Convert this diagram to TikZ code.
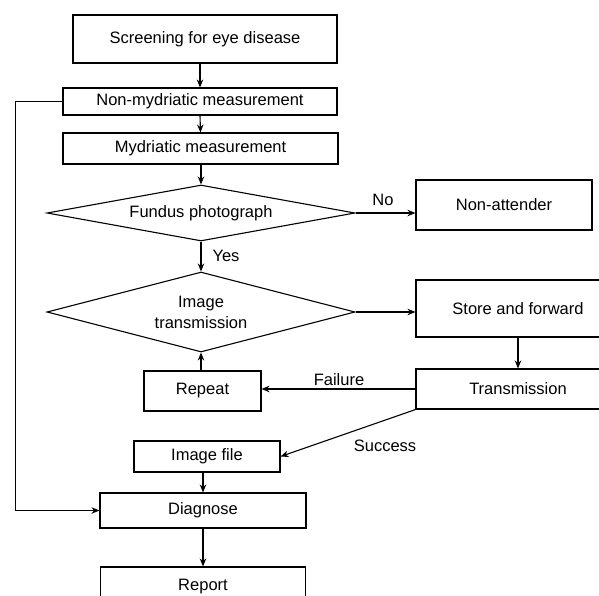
\documentclass[tikz,border=0pt]{standalone}
\usepackage{fontspec}
\setmainfont{Liberation Sans}
\usetikzlibrary{positioning,shapes.geometric,arrows.meta}
\tikzset{
    stage/.style={draw, rectangle, line width=1.1pt, inner sep=0pt},
    decision/.style={draw, diamond, line width=1.1pt, inner sep=0pt, align=center},
    flow/.style={line width=1.1pt}
}

\begin{document}
\begin{tikzpicture}[x=1pt, y=-1pt, >={Stealth[length=8pt,width=6.5pt]},
    font=\fontsize{16.5}{21}\selectfont]
    \useasboundingbox (0,0) rectangle (599,595);
    \def\levelOne{39}
    \def\levelTwo{101.5}
    \def\levelThree{148.5}
    \def\levelFour{213}
    \def\levelFive{312}
    \def\levelSix{391}
    \def\levelSeven{456.5}
    \def\levelEight{510.5}
    \def\levelNine{587}
    \node[stage, minimum width=264pt, minimum height=48pt] (screening) at (205,\levelOne) {Screening for eye disease};
    \node[stage, minimum width=274pt, minimum height=27pt] (nonMydriatic) at (200,\levelTwo) {Non-mydriatic measurement};
    \node[stage, minimum width=275pt, minimum height=31pt] (mydriatic) at (200.5,\levelThree) {Mydriatic measurement};
    \node[decision, aspect=5.5, minimum width=308pt, minimum height=56pt] (fundus) at (201,\levelFour) {Fundus photograph};
    \node[stage, minimum width=176pt, minimum height=50pt] (nonAttender) at (504,205) {Non-attender};
    \node[decision, aspect=3.85, minimum width=308pt, minimum height=80pt] (imageTransmission) at (201,\levelFive) {Image\\transmission};
    \node[stage, minimum width=204pt, minimum height=57pt] (storeForward) at (518,308.5) {Store and forward};
    \node[stage, minimum width=204pt, minimum height=40pt] (transmission) at (518,389) {Transmission};
    \node[stage, minimum width=117pt, minimum height=40pt] (repeat) at (202.5,\levelSix) {Repeat};
    \node[stage, minimum width=146pt, minimum height=31pt] (imageFile) at (207,\levelSeven) {Image file};
    \node[stage, minimum width=206pt, minimum height=35pt] (diagnose) at (203,\levelEight) {Diagnose};
    \node[stage, minimum width=205pt, minimum height=40pt] (report) at (203,\levelNine) {Report};
    \node (no) at (383,200) {No};
    \node (yes) at (226,256) {Yes};
    \node (failure) at (339,380) {Failure};
    \node (success) at (385,446) {Success};
    \draw[flow,->] (nonMydriatic.north |- screening.south) -- (nonMydriatic.north);
    \draw[flow,->] (nonMydriatic.south) -- (mydriatic.north);
    \draw[flow,->] (fundus.north |- mydriatic.south) -- (fundus.north);
    \draw[flow,->] (fundus.east) -- (nonAttender.west |- fundus.east);
    \draw[flow,->] (fundus.south) -- (imageTransmission.north);
    \draw[flow,->] (imageTransmission.east) -- (storeForward.west |- imageTransmission.east);
    \draw[flow,->] (storeForward.south) -- (transmission.north);
    \draw[flow,->] (transmission.west) -- (repeat.east |- transmission.west);
    \draw[flow,->] (imageTransmission.south |- repeat.north) -- (imageTransmission.south);
    \draw[flow,->] (transmission.south west) -- (imageFile.east);
    \draw[flow,->] (diagnose.north |- imageFile.south) -- (diagnose.north);
    \draw[flow,->] (nonMydriatic.west) -- ++(-47,0) |- (diagnose.west);
    \draw[flow,->] (diagnose.south) -- (report.north);
\end{tikzpicture}
\end{document}
